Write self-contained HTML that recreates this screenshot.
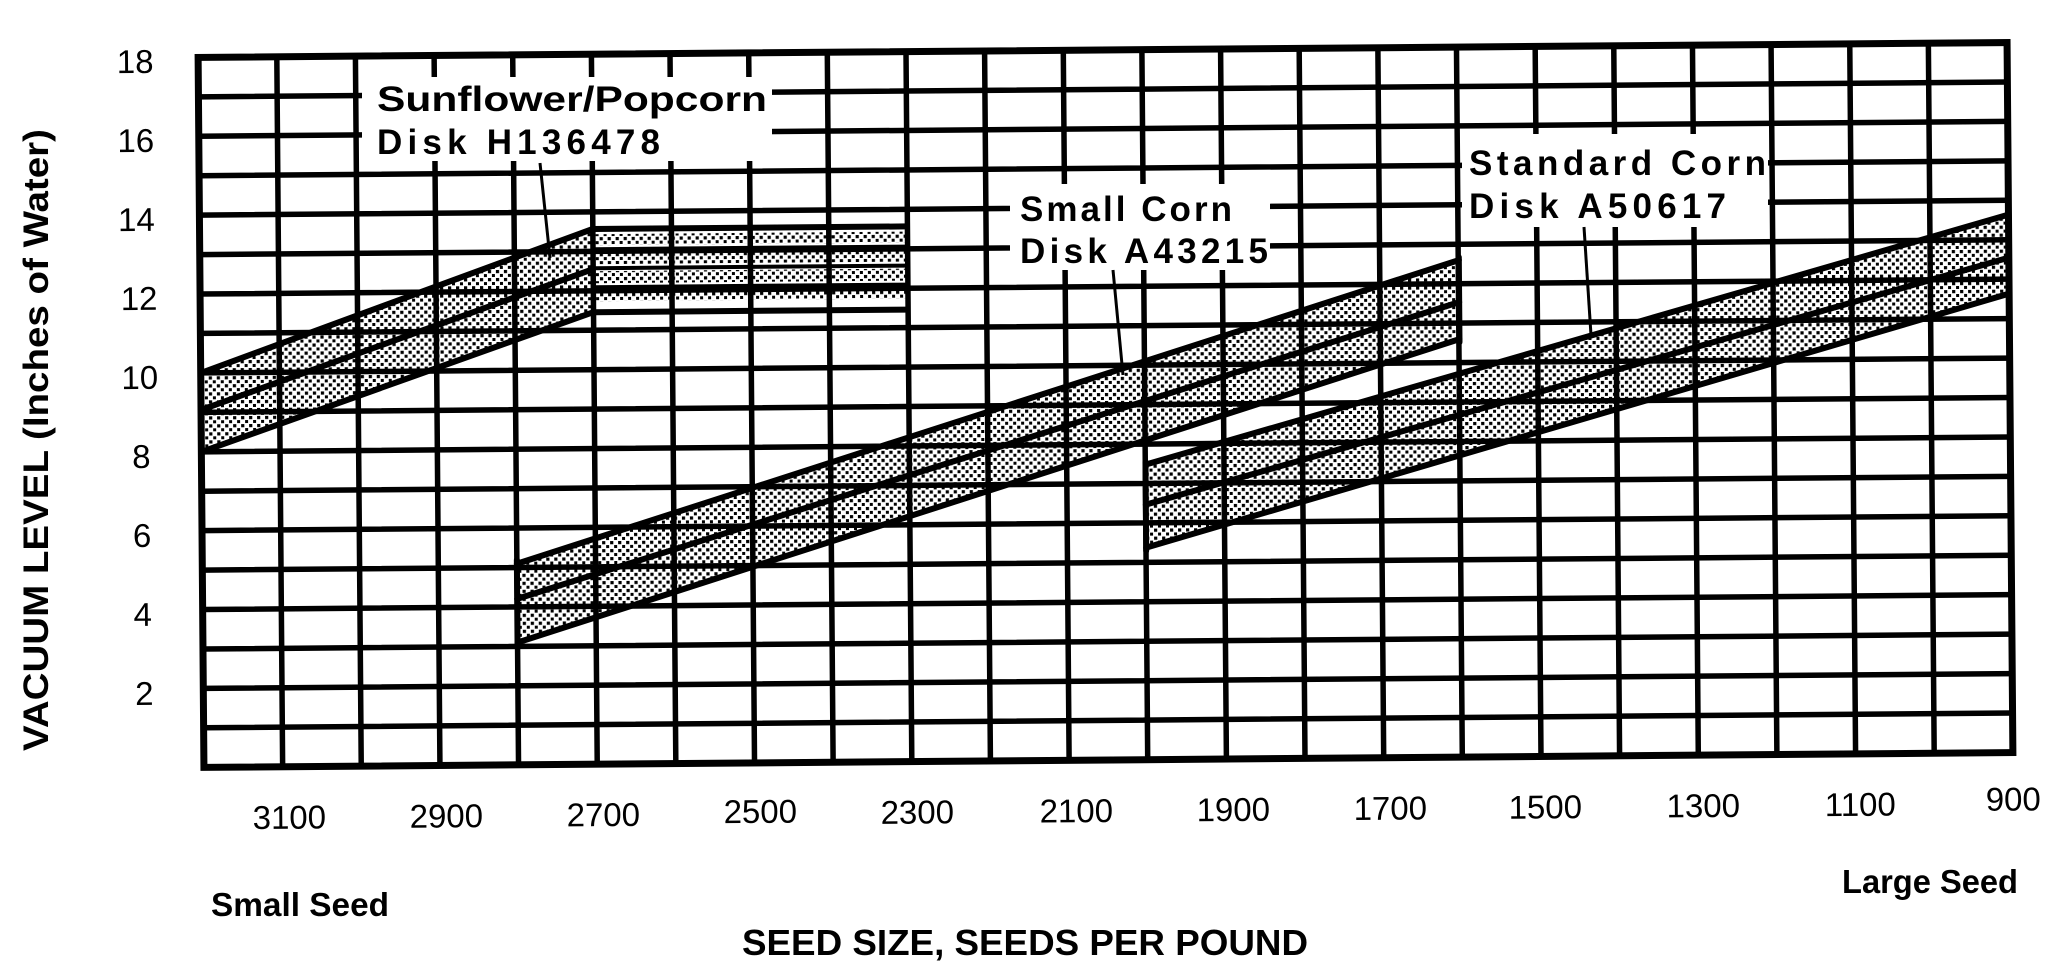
<!DOCTYPE html>
<html><head><meta charset="utf-8"><style>
html,body{margin:0;padding:0;background:#fff;}
svg{display:block;}
text{font-family:"Liberation Sans",sans-serif;fill:#000;}
</style></head><body>
<svg width="2067" height="965" viewBox="0 0 2067 965" xmlns="http://www.w3.org/2000/svg">
<defs>
<pattern id="dots" width="8" height="8" patternUnits="userSpaceOnUse">
<rect width="8" height="8" fill="#fff"/>
<rect x="1" y="1" width="3.2" height="3.2" fill="#000"/>
<rect x="5" y="5" width="3.2" height="3.2" fill="#000"/>
</pattern>
</defs>
<rect width="2067" height="965" fill="#fff"/>
<g transform="rotate(-0.47 1105 405)">
<polygon points="201,365.6 594,224.8 594,308 201,444.5" fill="url(#dots)"/>
<rect x="594" y="230" width="314" height="11" fill="url(#dots)"/>
<rect x="594" y="248" width="314" height="12" fill="url(#dots)"/>
<rect x="594" y="267" width="314" height="12" fill="url(#dots)"/>
<rect x="594" y="286" width="314" height="11" fill="url(#dots)"/>
<polygon points="515.6,558.9 1460,263 1460,342 515.6,637.7" fill="url(#dots)"/>
<polygon points="1145,465 2010,222 2010,301 1145,548" fill="url(#dots)"/>
<g stroke="#000" stroke-width="5.5" fill="none">
<path d="M201 89.4H2010M201 128.8H2010M201 168.3H2010M201 207.7H2010M201 247.2H2010M201 286.6H2010M201 326H2010M201 365.5H2010M201 404.9H2010M201 444.4H2010M201 483.8H2010M201 523.2H2010M201 562.7H2010M201 602.1H2010M201 641.6H2010M201 681H2010M201 720.4H2010"/>
<path d="M279.7 50V760M358.3 50V760M437 50V760M515.6 50V760M594.3 50V760M672.9 50V760M751.6 50V760M830.2 50V760M908.9 50V760M987.5 50V760M1066.2 50V760M1144.8 50V760M1223.5 50V760M1302.1 50V760M1380.8 50V760M1459.4 50V760M1538.1 50V760M1616.7 50V760M1695.4 50V760M1774 50V760M1852.7 50V760M1931.3 50V760"/>
</g>
<rect x="201" y="50" width="1809" height="710" fill="none" stroke="#000" stroke-width="7"/>
<g stroke="#000" stroke-width="6" fill="none" stroke-linecap="round">
<path d="M201 365.6L594 224.8H908"/>
<path d="M201 402.5L594 265"/>
<path d="M201 444.5L594 308H908"/>
<path d="M515.6 558.9L1460 263"/>
<path d="M515.6 594L1460 305"/>
<path d="M515.6 637.7L1460 342"/>
<path d="M515.6 555V640M1460 260V345"/>
<path d="M1145 465L2010 222"/>
<path d="M1145 505L2010 265"/>
<path d="M1145 548L2010 301"/>
<path d="M1145 462V551"/>
</g>
<g stroke="#000" stroke-width="4" fill="none">
<path d="M594 245H908M594 264H908M594 283H908"/>
</g>
<g font-size="33" text-anchor="middle">
<text x="138" y="65">18</text>
<text x="138" y="144">16</text>
<text x="138" y="223">14</text>
<text x="140" y="302">12</text>
<text x="140" y="381">10</text>
<text x="141" y="460">8</text>
<text x="141" y="539">6</text>
<text x="141" y="618">4</text>
<text x="142" y="697">2</text>
</g>
<g font-size="33" text-anchor="middle">
<text x="286" y="822">3100</text>
<text x="443" y="822">2900</text>
<text x="600" y="822">2700</text>
<text x="757" y="820">2500</text>
<text x="914" y="822">2300</text>
<text x="1073" y="822">2100</text>
<text x="1230" y="822">1900</text>
<text x="1387" y="822">1700</text>
<text x="1542" y="822">1500</text>
<text x="1700" y="822">1300</text>
<text x="1857" y="822">1100</text>
<text x="2010" y="818">900</text>
</g>
</g>
<rect x="362" y="77" width="410" height="84" fill="#fff"/>
<text x="377" y="111" font-size="35" font-weight="bold" textLength="390" lengthAdjust="spacingAndGlyphs">Sunflower/Popcorn</text>
<text x="377" y="154" font-size="35" font-weight="bold" textLength="283" lengthAdjust="spacing">Disk  H136478</text>
<line x1="540" y1="163" x2="550" y2="258" stroke="#000" stroke-width="3"/>

<rect x="1010" y="184" width="260" height="86" fill="#fff"/>
<text x="1020" y="221" font-size="35" font-weight="bold" textLength="212" lengthAdjust="spacing">Small  Corn</text>
<text x="1020" y="263" font-size="35" font-weight="bold" textLength="248" lengthAdjust="spacing">Disk  A43215</text>
<line x1="1113" y1="270" x2="1123" y2="375" stroke="#000" stroke-width="3"/>

<rect x="1462" y="134" width="306" height="93" fill="#fff"/>
<text x="1469" y="175" font-size="35" font-weight="bold" textLength="297" lengthAdjust="spacing">Standard  Corn</text>
<text x="1469" y="218" font-size="35" font-weight="bold" textLength="257" lengthAdjust="spacing">Disk  A50617</text>
<line x1="1584" y1="227" x2="1591" y2="335" stroke="#000" stroke-width="3"/>

<text transform="translate(48 440) rotate(-90)" text-anchor="middle" font-size="35" font-weight="bold" textLength="622" lengthAdjust="spacingAndGlyphs">VACUUM LEVEL  (Inches of Water)</text>
<text x="211" y="916" font-size="33" font-weight="bold" textLength="178" lengthAdjust="spacingAndGlyphs">Small Seed</text>
<text x="1842" y="893" font-size="33" font-weight="bold" textLength="176" lengthAdjust="spacingAndGlyphs">Large Seed</text>
<text x="742" y="955" font-size="36" font-weight="bold" textLength="566" lengthAdjust="spacingAndGlyphs">SEED SIZE, SEEDS PER POUND</text>
</svg>
</body></html>
